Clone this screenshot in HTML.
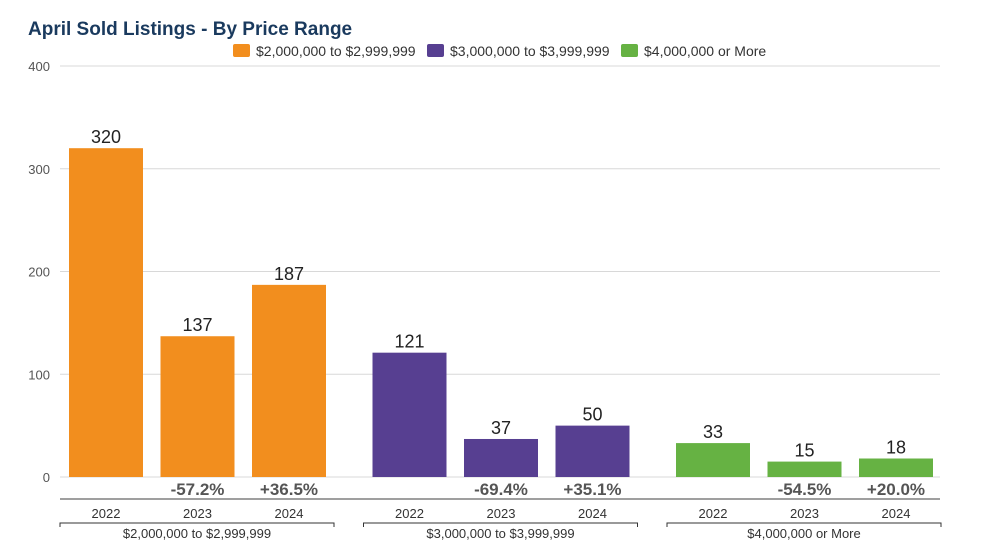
<!DOCTYPE html>
<html><head><meta charset="utf-8"><style>
body{margin:0;background:#fff;width:1000px;height:542px;overflow:hidden;font-family:"Liberation Sans",Arial,sans-serif}
</style></head><body>
<svg id="chart" width="1000" height="542" xmlns="http://www.w3.org/2000/svg" font-family="Liberation Sans, Arial, sans-serif">
<text x="28" y="35" font-size="19" font-weight="bold" fill="#1a3a5e">April Sold Listings - By Price Range</text>
<g font-size="14" fill="#333">
<g><rect x="233" y="44" width="17" height="13" rx="2" fill="#f28e1e"/><text x="256" y="56">$2,000,000 to $2,999,999</text></g>
<g><rect x="427" y="44" width="17" height="13" rx="2" fill="#573f91"/><text x="450" y="56">$3,000,000 to $3,999,999</text></g>
<g><rect x="621" y="44" width="17" height="13" rx="2" fill="#66b243"/><text x="644" y="56">$4,000,000 or More</text></g>
</g>
<g id="grid"></g><g id="bars"></g><g id="xaxis"></g>
</svg>
<script>
const groups=["$2,000,000 to $2,999,999","$3,000,000 to $3,999,999","$4,000,000 or More"];
const years=["2022","2023","2024"];
const values=[[320,137,187],[121,37,50],[33,15,18]];
const changes=[["","-57.2%","+36.5%"],["","-69.4%","+35.1%"],["","-54.5%","+20.0%"]];
const ticks=[0,100,200,300,400];
const colors=["#f28e1e","#573f91","#66b243"];
const NS="http://www.w3.org/2000/svg";
const y0=477,pxPer=(477-66)/400,left=60,right=940;
const y=v=>y0-v*pxPer;
const groupW=303.5,bracketW=274;
const barW=74,step=91.5;
const bx=(g,i)=>left+9+g*groupW+i*step;
function mk(tag,attrs,parent,txt){const e=document.createElementNS(NS,tag);for(const k in attrs)e.setAttribute(k,attrs[k]);if(txt!==undefined)e.textContent=txt;parent.appendChild(e);return e;}
const grid=document.getElementById('grid'),bars=document.getElementById('bars'),xa=document.getElementById('xaxis');
ticks.forEach(t=>{
  const l=mk('line',{x1:left,x2:right,y1:y(t),y2:y(t),stroke:'#d8d8d8','stroke-width':1},grid);
  
  
  const tx=mk('text',{x:50,y:y(t)+5,'text-anchor':'end','font-size':13,fill:'#555'},grid,String(t));
  
  
});
const ax=mk('line',{x1:left,x2:right,y1:499,y2:499,stroke:'#666','stroke-width':1.2},xa);


groups.forEach((gname,g)=>{
  years.forEach((yr,i)=>{
    const v=values[g][i],x=bx(g,i);
    const r=mk('rect',{x:x,y:y(v),width:barW,height:y0-y(v),fill:colors[g]},bars);
    
    
    const lb=mk('text',{x:x+barW/2,y:y(v)-5,'text-anchor':'middle','font-size':18,fill:'#222'},bars,String(v));
    
    
    if(changes[g][i]){
      const c=mk('text',{x:x+barW/2,y:495,'text-anchor':'middle','font-size':17,'font-weight':'bold',fill:'#555'},bars,changes[g][i]);
      
      
    }
    const yl=mk('text',{x:x+barW/2,y:518,'text-anchor':'middle','font-size':13,fill:'#333'},xa,yr);
    
    
  });
  const gx1=left+g*groupW,gx2=gx1+bracketW;
  const br=mk('path',{d:`M${gx1},527V523H${gx2}V527`,stroke:'#333',fill:'none','stroke-width':1},xa);
  
  
  const gl=mk('text',{x:(gx1+gx2)/2,y:538,'text-anchor':'middle','font-size':13,fill:'#333'},xa,gname);
  
  
});
</script>
</body></html>
